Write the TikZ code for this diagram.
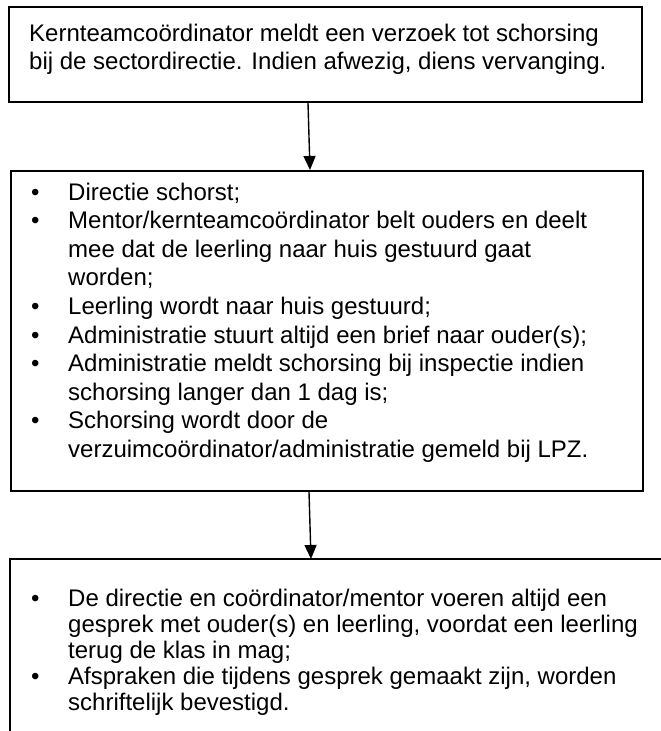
\documentclass[tikz,border=0pt]{standalone}
\usepackage{fontspec}
\setmainfont{Liberation Sans}
\usetikzlibrary{arrows.meta}
\newcommand\myline[1]{\hbox{#1}}
\newcommand\bul[1]{\hbox{\makebox[37pt][l]{•}#1}}
\newcommand\cont[1]{\hbox{\hskip37pt #1}}
\tikzset{
  box/.style={draw=black, line width=2pt, rectangle, inner sep=0pt, anchor=north west},
  txt/.style={inner sep=0pt, anchor=base west, font=\fontsize{24}{28}\selectfont},
  arr/.style={line width=1.4pt, -{Triangle[length=14pt,width=12pt]}}
}
\begin{document}
\begin{tikzpicture}[x=1pt,y=-1pt]
\useasboundingbox (0,0) rectangle (661,731);
\fill[white] (0,0) rectangle (661,731);
% boxes
\node[box, minimum width=633pt, minimum height=95pt] (b1) at (8,6) {};
\node[box, minimum width=632pt, minimum height=320pt] (b2) at (10,170) {};
\coordinate (b3tl) at (10,559);
\coordinate (b3tr) at (661,559);
\coordinate (b3bl) at (10,731);
\draw[line width=2pt] (b3tr) -- (b3tl) -- (b3bl);
% texts
\node[txt] (t1) at (29,41) {\vtop{\baselineskip=28pt
  \myline{Kernteamcoördinator meldt een verzoek tot schorsing}
  \myline{bij de sectordirectie. Indien afwezig, diens vervanging.}}};
\node[txt] (t2) at (31,200) {\vtop{\baselineskip=28.6pt
  \bul{Directie schorst;}
  \bul{Mentor/kernteamcoördinator belt ouders en deelt}
  \cont{mee dat de leerling naar huis gestuurd gaat}
  \cont{worden;}
  \bul{Leerling wordt naar huis gestuurd;}
  \bul{Administratie stuurt altijd een brief naar ouder(s);}
  \bul{Administratie meldt schorsing bij inspectie indien}
  \cont{schorsing langer dan 1 dag is;}
  \bul{Schorsing wordt door de}
  \cont{verzuimcoördinator/administratie gemeld bij LPZ.}}};
\node[txt] (t3) at (31,606) {\vtop{\baselineskip=26pt
  \bul{De directie en coördinator/mentor voeren altijd een}
  \cont{gesprek met ouder(s) en leerling, voordat een leerling}
  \cont{terug de klas in mag;}
  \bul{Afspraken die tijdens gesprek gemaakt zijn, worden}
  \cont{schriftelijk bevestigd.}}};
% arrows
\draw[arr] ([xshift=-17.5pt]b1.south) -- ([xshift=-17pt]b2.north);
\draw[arr] ([xshift=-18pt]b2.south) -- ([xshift=301pt]b3tl);
\end{tikzpicture}
\end{document}
